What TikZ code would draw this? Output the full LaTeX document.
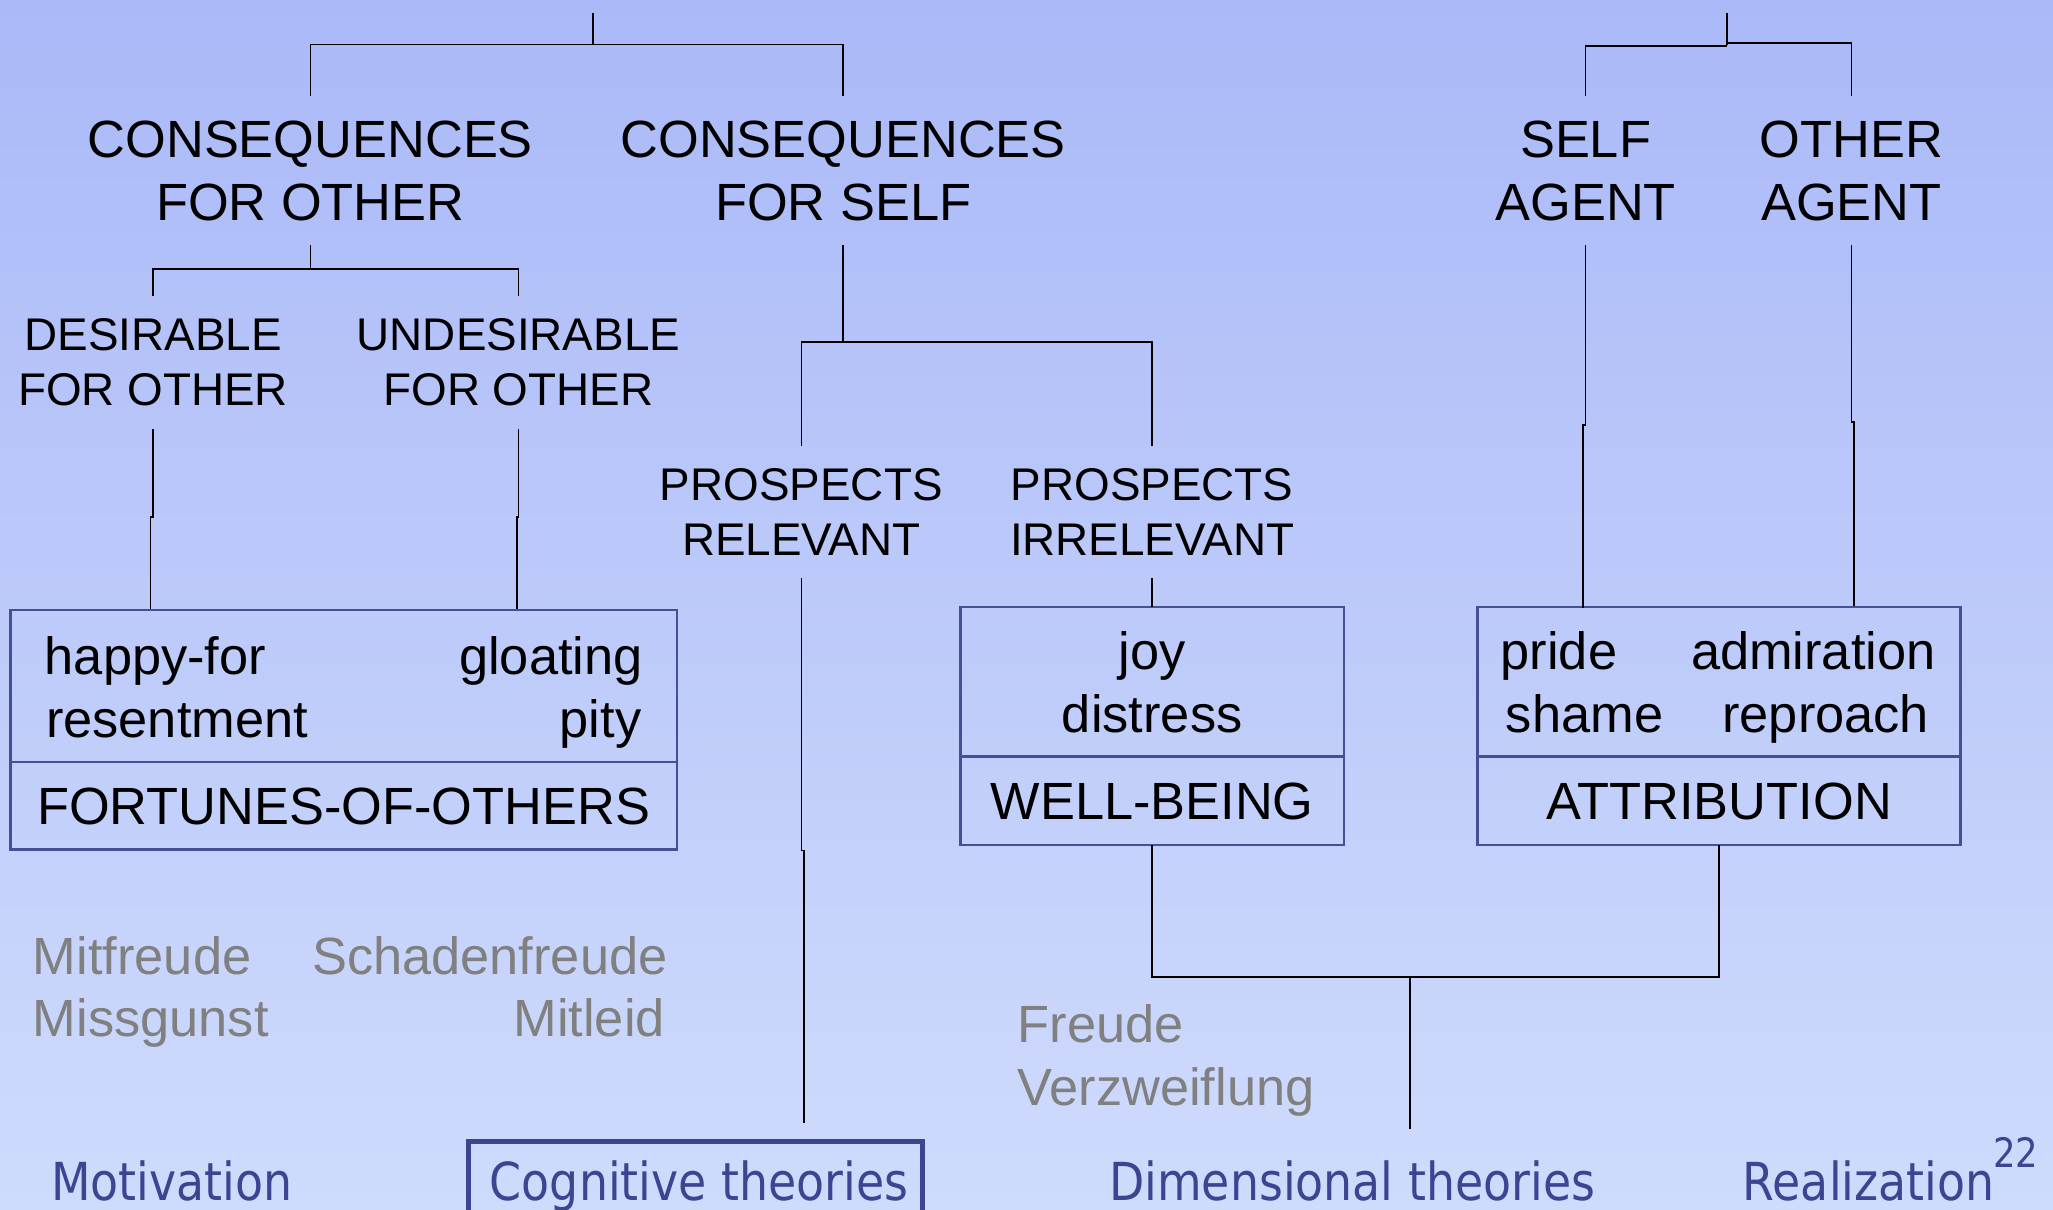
\documentclass[tikz,border=0pt]{standalone}
\usepackage{fontspec}
\usetikzlibrary{calc}
\setmainfont{Liberation Sans}
\newfontfamily\navfont[FakeStretch=0.875]{DejaVu Sans}
\definecolor{bgtop}{RGB}{170,185,248}
\definecolor{bgbot}{RGB}{207,219,252}
\definecolor{boxc}{RGB}{72,78,150}
\definecolor{navc}{RGB}{62,68,145}
\definecolor{greyt}{RGB}{128,128,128}
\tikzset{
  big/.style={inner sep=0, align=center, font=\fontsize{40}{48.5}\selectfont, outer ysep=18.5},
  mid/.style={inner sep=0, align=center, font=\fontsize{35}{42}\selectfont, outer ysep=17.5},
  txt/.style={inner sep=0, font=\fontsize{40}{48.5}\selectfont},
  grey/.style={txt, text=greyt},
  nav/.style={inner sep=0, text=navc, font=\navfont\fontsize{40}{48}\selectfont},
  conn/.style={line width=1.2pt, black},
  boxpart/.style={draw=boxc, line width=2pt, inner sep=0, outer sep=0},
  navbox/.style={draw=navc, line width=3.6pt, inner sep=0, outer sep=0}
}
\begin{document}
\begin{tikzpicture}[x=1pt,y=-1pt]
\useasboundingbox (0,0) rectangle (1568,924);
\shade[top color=bgtop, bottom color=bgbot] (0,0) rectangle (1568,924);

% ---- labels ----
\node[big] (cfo) at (237,130.5) {CONSEQUENCES\\FOR OTHER};
\node[big] (cfs) at (644,130.5) {CONSEQUENCES\\FOR SELF};
\node[big] (sa)  at (1211,130.5) {SELF\\AGENT};
\node[big] (oa)  at (1414,130.5) {OTHER\\AGENT};
\node[mid] (des)   at (117,277) {DESIRABLE\\FOR OTHER};
\node[mid] (undes) at (396,277) {UNDESIRABLE\\FOR OTHER};
\node[mid] (prel)  at (612,391) {PROSPECTS\\RELEVANT};
\node[mid] (pirr)  at (880,391) {PROSPECTS\\IRRELEVANT};

% ---- boxes ----
\node[boxpart, minimum width=509, minimum height=116] (fooU) at (262.5,524) {};
\node[boxpart, minimum width=509, minimum height=67]  (fooL) at (262.5,615.5) {};
\node[boxpart, minimum width=293, minimum height=114.4] (wbU) at (880,520.8) {};
\node[boxpart, minimum width=293, minimum height=67.4]  (wbL) at (880,611.7) {};
\node[boxpart, minimum width=369, minimum height=114.4] (atU) at (1313,520.8) {};
\node[boxpart, minimum width=369, minimum height=67.4]  (atL) at (1313,611.7) {};

% box texts
\node[txt, anchor=base west] (hf)  at (34,515) {happy-for};
\node[txt, anchor=base west] (res) at (35,563.5) {resentment};
\node[txt, anchor=base east] (glo) at (491,515) {gloating};
\node[txt, anchor=base east] (pit) at (490,563.5) {pity};
\node[txt, anchor=base] (foo) at (262.5,630) {FORTUNES-OF-OTHERS};
\node[txt, anchor=base] (joy) at (880,511) {joy};
\node[txt, anchor=base] (dis) at (880,559.5) {distress};
\node[txt, anchor=base] (wb)  at (880,626) {WELL-BEING};
\node[txt, anchor=base west] (pri) at (1146,511) {pride};
\node[txt, anchor=base west] (sha) at (1150,559.5) {shame};
\node[txt, anchor=base east] (adm) at (1478.5,511) {admiration};
\node[txt, anchor=base east] (rep) at (1473.5,559.5) {reproach};
\node[txt, anchor=base] (att) at (1313,626) {ATTRIBUTION};

% grey German words
\node[grey, anchor=base west] (mf)  at (25,744) {Mitfreude};
\node[grey, anchor=base west] (mg)  at (25,792) {Missgunst};
\node[grey, anchor=base east] (sf)  at (510,744) {Schadenfreude};
\node[grey, anchor=base east] (ml)  at (508,792) {Mitleid};
\node[grey, anchor=base west] (fr)  at (777,796) {Freude};
\node[grey, anchor=base west] (vz)  at (777,844) {Verzweiflung};

% navigation
\node[navbox, minimum width=346.6, minimum height=70] (cogbox) at (531.3,907) {};
\node[nav, anchor=base west] (mot) at (39,917) {Motivation};
\node[nav, anchor=base west] (cog) at (374,917) {Cognitive theories};
\node[nav, anchor=base west] (dim) at (847,917) {Dimensional theories};
\node[nav, anchor=base west] (rea) at (1331,917) {Realization};
\node[inner sep=0, text=navc, font=\navfont\fontsize{31}{36}\selectfont, anchor=base west] (pg) at (1522,892) {22};

% ---- connectors ----
\coordinate (rootL) at (453,10);
\draw[conn] (rootL) -- ++(0,24) coordinate (jL);
\draw[conn] (cfo.north) |- (jL) -| (cfs.north);

\draw[conn] (cfo.south) -- ++(0,18) coordinate (j2);
\draw[conn] (des.north) |- (j2) -| (undes.north);

\draw[conn] (des.south) -- ++(0,67) -- ++(-2,0) -- ++(0,70);
\draw[conn] (undes.south) -- ++(0,67) -- ++(-1,0) -- ++(0,70);

\draw[conn] (cfs.south) -- ++(0,74) coordinate (j3);
\draw[conn] (prel.north) |- (j3) -| (pirr.north);

\draw[conn] (prel.south) -- ++(0,208) -- ++(2,0) -- ++(0,208) coordinate (cogtop);
\draw[conn] (pirr.south) -- (wbU.north);

\draw[conn] (wbL.south) -- ++(0,100.6) coordinate (j4) -| (atL.south);
\coordinate (dimtop) at (1077,862);
\draw[conn] (dimtop |- j4) -- (dimtop);

\coordinate (rootR) at (1319,10);
\draw[conn] (rootR) -- ++(0,24) coordinate (jR);
\draw[conn] (sa.north) |- ($(jR)+(0,1)$);
\draw[conn] (oa.north) |- ($(jR)+(0,-1)$);

\draw[conn] (sa.south) -- ++(0,137) -- ++(-2,0) -- ++(0,139.6);
\draw[conn] (oa.south) -- ++(0,135) -- ++(2,0) -- ++(0,140.6);
\end{tikzpicture}
\end{document}
